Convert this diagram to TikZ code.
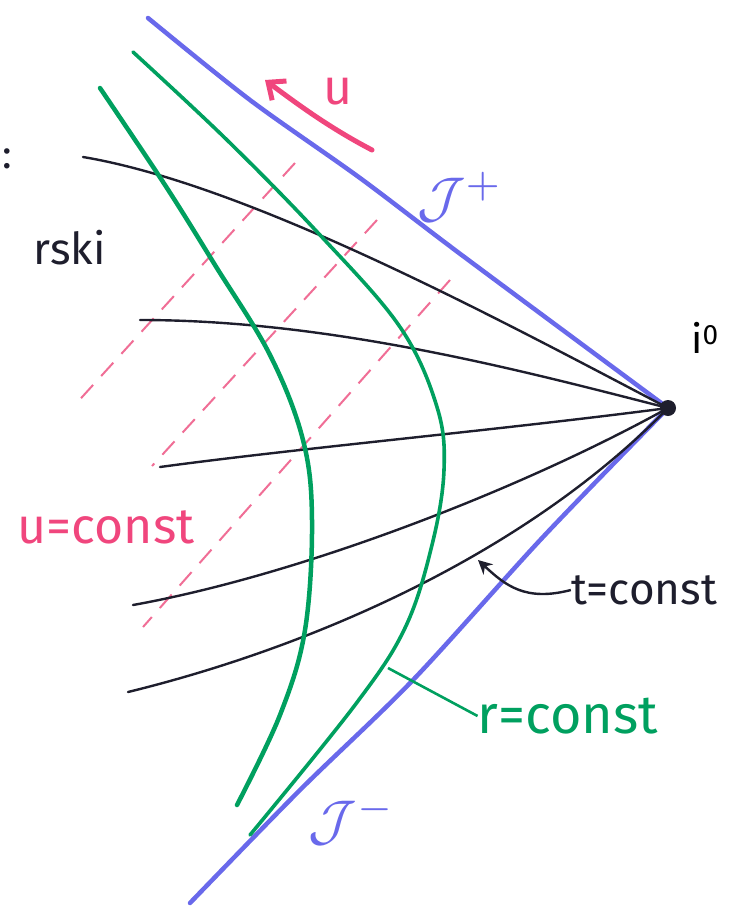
\documentclass[tikz,border=0pt]{standalone}
\usepackage{graphicx}
\usepackage{fontspec}
\setmainfont{Fira Sans}
\usetikzlibrary{arrows.meta}
\definecolor{scri}{RGB}{105,105,235}
\definecolor{rgreen}{RGB}{0,160,95}
\definecolor{upink}{RGB}{240,70,125}
\definecolor{dpink}{RGB}{240,110,150}
\definecolor{tblack}{RGB}{30,30,45}
\tikzset{
  scriline/.style={draw=scri,line width=4.5pt,line cap=round},
  rline/.style={draw=rgreen,line width=4pt,line cap=round},
  tline/.style={draw=tblack,line width=2.4pt,line cap=round},
  uline/.style={draw=dpink,line width=2pt,dash pattern=on 18pt off 12pt},
  lab/.style={inner sep=0pt,font=\fontsize{48}{50}\selectfont},
  scrilab/.style={inner sep=0pt,text=scri,font=\fontsize{10}{12}\selectfont},
}
\begin{document}
\begin{tikzpicture}[x=1pt,y=-1pt]
\useasboundingbox (0,0) rectangle (737,908);
\coordinate (i0) at (668,408);
% scri lines
\draw[scriline] plot[smooth,tension=0.5] coordinates {(148,18) (250,100) (360,178) (463,256) (i0)};
\draw[scriline] plot[smooth,tension=0.5] coordinates {(i0) (543,537) (413,680) (300,790) (190,903)};
% u = const dashed lines
\coordinate (ua1) at (295,163); \coordinate (ua2) at (73,407);
\coordinate (ub1) at (377,220); \coordinate (ub2) at (152,466);
\coordinate (uc1) at (450,280); \coordinate (uc2) at (143,627);
\draw[uline] (ua1) -- (ua2);
\draw[uline] (ub1) -- (ub2);
\draw[uline] (uc1) -- (uc2);
% t = const lines
\coordinate (t1) at (83,157);
\coordinate (t2) at (140,320);
\coordinate (t3) at (160,467);
\coordinate (t4) at (133,605);
\coordinate (t5) at (128,692);
\draw[tline] (t1) .. controls (250,185) and (500,320) .. (i0);
\draw[tline] (t2) .. controls (330,320) and (520,370) .. (i0);
\draw[tline] (t3) .. controls (300,448) and (500,430) .. (i0);
\draw[tline] (t4) .. controls (300,575) and (520,490) .. (i0);
\draw[tline] (t5) .. controls (300,650) and (520,560) .. (i0);
% r = const curves
\draw[rline,line width=4.5pt] plot[smooth,tension=0.6] coordinates {(100,88) (165,185) (215,265) (270,355) (303,440) (312,520) (305,630) (280,715) (237,805)};
\draw[rline,line width=3.6pt] plot[smooth,tension=0.6] coordinates {(133,52) (227,140) (320,235) (400,327) (437,407) (444,470) (432,545) (405,628) (355,705) (250,835)};
% i0 point
\fill[tblack] (i0) circle (8pt);
\node[lab,font=\fontsize{40}{42}\selectfont] (i0lab) at (705,338) {i\textsuperscript{0}};
% scri labels
\node[scrilab] (scriplus) at (460,197) {\scalebox{5.6}{$\mathcal{J}^{+}$}};
\node[scrilab] (scriminus) at (352,820) {\scalebox{5.6}{$\mathcal{J}^{-}$}};
% u arrow and label
\coordinate (utail) at (372,150);
\coordinate (uhead) at (265,80);
\draw[draw=upink,line width=5pt,line cap=round,-{Straight Barb[length=14pt,width=24pt]}] (utail) .. controls (330,128) and (300,106) .. (uhead);
\node[lab,text=upink,font=\fontsize{50}{52}\selectfont] (ulab) at (338,92) {u};
\node[lab,text=upink,font=\fontsize{50}{52}\selectfont] (uconst) at (106,527) {u=const};
% t = const label and arrow
\node[lab,text=tblack,font=\fontsize{44}{46}\selectfont] (tconst) at (644,590) {t=const};
\coordinate (tc) at (478,560);
\draw[draw=tblack,line width=2.4pt,-{Stealth[length=14pt,width=14pt]}] (tconst.west) .. controls (525,602) and (505,585) .. (tc);
% r = const label and connector
\node[lab,text=rgreen,font=\fontsize{54}{56}\selectfont] (rconst) at (568,716) {r=const};
\coordinate (rc) at (388,668);
\draw[draw=rgreen,line width=2.6pt] (rconst.west) -- (rc);
% cut-off text at left edge
\node[lab,text=tblack,font=\fontsize{44}{46}\selectfont,anchor=base east] (rski) at (106,264) {rski};
\node[lab,text=tblack,font=\fontsize{40}{42}\selectfont,anchor=base west] (colon) at (2,168) {:};
\end{tikzpicture}
\end{document}
